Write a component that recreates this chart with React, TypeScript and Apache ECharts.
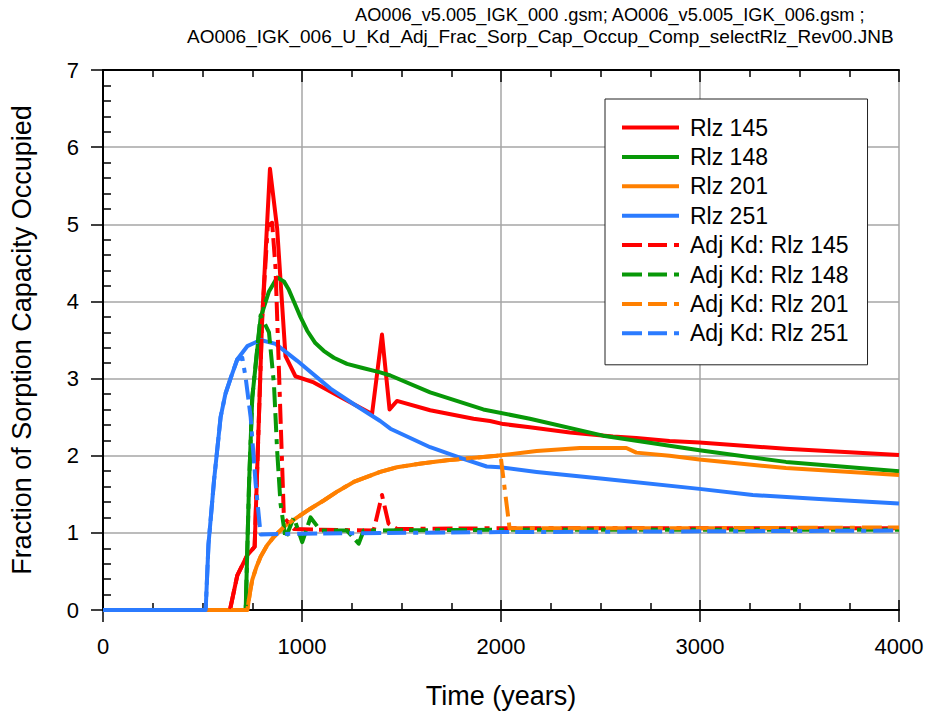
import React, { useEffect, useRef } from "react";
import * as echarts from "echarts";

const FONT = "'Liberation Sans', Arial, Helvetica, sans-serif";

const titleLine1 = "AO006_v5.005_IGK_000 .gsm; AO006_v5.005_IGK_006.gsm ;";
const titleLine2 = "AO006_IGK_006_U_Kd_Adj_Frac_Sorp_Cap_Occup_Comp_selectRlz_Rev00.JNB";
const xAxisName = "Time (years)";
const yAxisName = "Fraction of Sorption Capacity Occupied";

const seriesNames = [
  "Rlz 145",
  "Rlz 148",
  "Rlz 201",
  "Rlz 251",
  "Adj Kd: Rlz 145",
  "Adj Kd: Rlz 148",
  "Adj Kd: Rlz 201",
  "Adj Kd: Rlz 251",
];
const seriesColors = ["#ff0000", "#089808", "#ff8000", "#2b7bff", "#ff0000", "#089808", "#ff8000", "#2b7bff"];

// Rlz 145
const years145 = [0, 638, 675, 725, 762, 800, 839, 875, 917, 967, 1059, 1200, 1352, 1402, 1440, 1477, 1644, 1862, 1945, 2012, 2145, 2346, 2563, 2680, 2847, 2997, 3432, 4000];
const values145 = [0, 0, 0.45, 0.71, 0.82, 3.79, 5.72, 4.95, 3.29, 3.03, 2.95, 2.75, 2.54, 3.57, 2.6, 2.71, 2.59, 2.48, 2.45, 2.41, 2.37, 2.3, 2.25, 2.23, 2.19, 2.17, 2.09, 2.01];

// Rlz 148
const years148 = [0, 717, 734, 750, 792, 834, 875, 909, 934, 959, 992, 1026, 1067, 1109, 1160, 1226, 1300, 1393, 1444, 1644, 1911, 2145, 2513, 2847, 2997, 3432, 4000];
const values148 = [0, 0, 1.64, 2.75, 3.79, 4.13, 4.31, 4.26, 4.15, 4.0, 3.8, 3.62, 3.46, 3.36, 3.27, 3.19, 3.14, 3.08, 3.04, 2.82, 2.6, 2.48, 2.26, 2.13, 2.07, 1.92, 1.8];

// Rlz 201
const years201 = [0, 725, 740, 750, 770, 792, 825, 859, 915, 976, 1040, 1109, 1180, 1260, 1330, 1393, 1477, 1600, 1728, 1978, 2179, 2396, 2630, 2680, 2847, 2997, 3432, 4000];
const values201 = [0, 0, 0.25, 0.39, 0.55, 0.69, 0.84, 0.95, 1.09, 1.2, 1.31, 1.42, 1.54, 1.66, 1.73, 1.79, 1.85, 1.9, 1.94, 2.0, 2.06, 2.1, 2.1, 2.04, 2.0, 1.95, 1.84, 1.75];

// Rlz 251
const years251 = [0, 516, 530, 558, 591, 615, 642, 675, 725, 792, 867, 976, 1143, 1259, 1393, 1444, 1644, 1811, 1928, 1995, 2179, 2513, 2997, 3265, 3599, 4000];
const values251 = [0, 0, 0.85, 1.68, 2.5, 2.8, 3.01, 3.25, 3.42, 3.5, 3.45, 3.23, 2.87, 2.67, 2.45, 2.35, 2.11, 1.96, 1.86, 1.85, 1.79, 1.7, 1.57, 1.49, 1.44, 1.38];

// Adj Kd: Rlz 145
const yearsAdj145 = [0, 638, 675, 725, 762, 800, 828, 850, 867, 892, 909, 959, 1100, 1360, 1402, 1435, 1477, 2000, 3000, 4000];
const valuesAdj145 = [0, 0, 0.45, 0.71, 0.82, 3.79, 4.98, 5.02, 4.43, 2.5, 1.2, 1.05, 1.04, 1.03, 1.49, 1.12, 1.05, 1.06, 1.06, 1.06];

// Adj Kd: Rlz 148
const yearsAdj148 = [0, 717, 734, 750, 792, 834, 859, 875, 892, 917, 959, 1001, 1043, 1093, 1226, 1285, 1310, 2000, 3000, 4000];
const valuesAdj148 = [0, 0, 1.64, 2.75, 3.82, 3.6, 2.93, 2.07, 1.38, 0.93, 1.2, 0.88, 1.2, 1.03, 1.03, 0.86, 1.03, 1.04, 1.04, 1.04];

// Adj Kd: Rlz 201
const yearsAdj201 = [0, 725, 740, 750, 770, 792, 825, 859, 915, 976, 1040, 1109, 1180, 1260, 1330, 1393, 1477, 1600, 1728, 1978, 1998, 2043, 2500, 3000, 4000];
const valuesAdj201 = [0, 0, 0.25, 0.39, 0.55, 0.69, 0.84, 0.95, 1.09, 1.2, 1.31, 1.42, 1.54, 1.66, 1.73, 1.79, 1.85, 1.9, 1.94, 2.0, 2.0, 1.06, 1.06, 1.06, 1.07];

// Adj Kd: Rlz 251
const yearsAdj251 = [0, 516, 530, 558, 591, 615, 642, 675, 700, 717, 742, 767, 792, 1000, 2000, 3000, 4000];
const valuesAdj251 = [0, 0, 0.85, 1.68, 2.5, 2.8, 3.01, 3.25, 3.27, 3.01, 2.5, 1.64, 0.98, 0.99, 1.01, 1.02, 1.03];

const xTicks = { min: 0, max: 4000, interval: 1000 };
const yTicks = { min: 0, max: 7, interval: 1 };

const zip = (xs: number[], ys: number[]) => xs.map((x, i) => [x, ys[i]]);

const seriesData = [
  zip(years145, values145),
  zip(years148, values148),
  zip(years201, values201),
  zip(years251, values251),
  zip(yearsAdj145, valuesAdj145),
  zip(yearsAdj148, valuesAdj148),
  zip(yearsAdj201, valuesAdj201),
  zip(yearsAdj251, valuesAdj251),
];

const DASH = [20, 6, 19, 7, 5, 7];

export default function App() {
  const ref = useRef<HTMLDivElement>(null);
  useEffect(() => {
    if (!ref.current) return;
    const chart = echarts.init(ref.current, undefined, { renderer: "svg" });
    const series = seriesNames.map((name, i) => ({
      name,
      type: "line",
      xAxisIndex: 0,
      yAxisIndex: 0,
      data: seriesData[i],
      symbol: "none",
      showSymbol: false,
      lineStyle: {
        color: seriesColors[i],
        width: 4,
        type: i >= 4 ? DASH : "solid",
        cap: "butt",
        join: "round",
      },
      itemStyle: { color: seriesColors[i] },
      z: 3 + i,
    }));
    chart.setOption({
      animation: false,
      backgroundColor: "#ffffff",
      textStyle: { fontFamily: FONT },
      grid: { left: 102, right: 28, top: 70, bottom: 107, containLabel: false },
      graphic: [
        {
          type: "text",
          left: 355,
          top: 6,
          style: { text: titleLine1, font: `18.2px ${FONT}`, fill: "#000" },
        },
        {
          type: "text",
          left: 187,
          top: 27,
          style: { text: titleLine2, font: `19px ${FONT}`, fill: "#000" },
        },
      ],
      legend: {
        orient: "vertical",
        left: 605,
        top: 99,
        padding: [17, 19, 20, 15],
        itemWidth: 57,
        itemHeight: 14,
        itemGap: 6.4,
        backgroundColor: "#ffffff",
        borderColor: "#222222",
        borderWidth: 1,
        borderRadius: 0,
        selectedMode: false,
        data: seriesNames,
        itemStyle: { opacity: 0, borderWidth: 0 },
        lineStyle: { width: 4, cap: "butt" },
        textStyle: {
          fontSize: 23,
          lineHeight: 23,
          fontFamily: FONT,
          color: "#000",
          padding: [0, 0, 0, 6],
        },
      },
      xAxis: [
        {
          type: "value",
          position: "bottom",
          ...xTicks,
          name: xAxisName,
          nameLocation: "middle",
          nameGap: 72,
          nameTextStyle: { fontSize: 27, fontFamily: FONT, color: "#000" },
          axisLine: { show: true, onZero: false, lineStyle: { color: "#000", width: 2 } },
          axisTick: { show: true, inside: false, length: 12, lineStyle: { color: "#000", width: 1.5 } },
          minorTick: { show: true, splitNumber: 4, length: -7, lineStyle: { color: "#000", width: 1.5 } },
          axisLabel: {
            show: true,
            fontSize: 22,
            margin: 25,
            color: "#000",
            fontFamily: FONT,
            formatter: (v: number) => String(v),
          },
          splitLine: { show: true, lineStyle: { color: "#a6a6a6", width: 1.5 } },
          minorSplitLine: { show: false },
        },
        {
          type: "value",
          position: "top",
          ...xTicks,
          axisLine: { show: true, onZero: false, lineStyle: { color: "#000", width: 2 } },
          axisTick: { show: true, inside: true, length: 12, lineStyle: { color: "#000", width: 1.5 } },
          minorTick: { show: true, splitNumber: 4, length: 7, lineStyle: { color: "#000", width: 1.5 } },
          axisLabel: { show: false },
          splitLine: { show: false },
        },
        {
          type: "value",
          position: "bottom",
          ...xTicks,
          axisLine: { show: false, onZero: false },
          axisTick: { show: true, inside: true, length: 10, lineStyle: { color: "#000", width: 1.5 } },
          axisLabel: { show: false },
          splitLine: { show: false },
        },
      ],
      yAxis: [
        {
          type: "value",
          position: "left",
          ...yTicks,
          name: yAxisName,
          nameLocation: "middle",
          nameGap: 68,
          nameRotate: 90,
          nameTextStyle: { fontSize: 27, fontFamily: FONT, color: "#000" },
          axisLine: { show: true, onZero: false, lineStyle: { color: "#000", width: 2 } },
          axisTick: { show: true, inside: false, length: 12, lineStyle: { color: "#000", width: 1.5 } },
          minorTick: { show: true, splitNumber: 5, length: -8, lineStyle: { color: "#000", width: 1.5 } },
          axisLabel: {
            show: true,
            fontSize: 22,
            margin: 24,
            color: "#000",
            fontFamily: FONT,
            formatter: (v: number) => String(v),
          },
          splitLine: { show: true, lineStyle: { color: "#a6a6a6", width: 1.5 } },
        },
      ],
      series,
    });
    return () => chart.dispose();
  }, []);
  return (
    <div
      ref={ref}
      style={{ position: "fixed", left: 0, top: 0, width: 927, height: 717, background: "#fff" }}
    />
  );
}
